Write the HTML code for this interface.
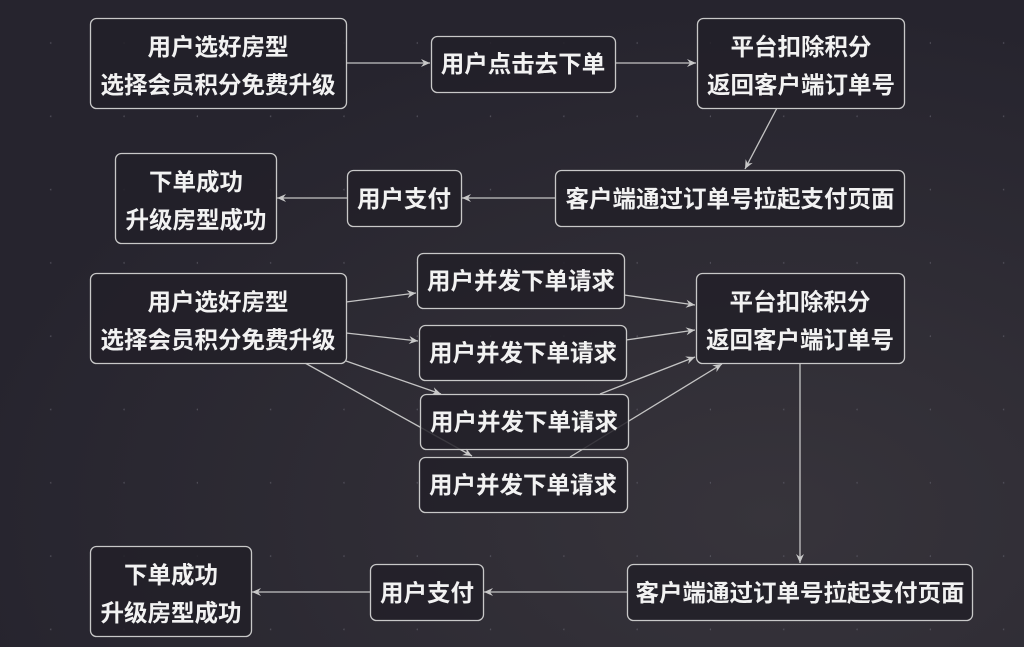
<!DOCTYPE html>
<html><head><meta charset="utf-8"><style>
html,body{margin:0;padding:0;width:1024px;height:647px;overflow:hidden;background:#2a2832;}
svg{display:block}
text{font-family:"Noto Sans CJK SC","Liberation Sans",sans-serif;font-size:23.5px;font-weight:700;fill:#f2f2f2;text-anchor:middle;}
</style></head><body>
<svg width="1024" height="647" viewBox="0 0 1024 647" xmlns="http://www.w3.org/2000/svg">
<defs>
<radialGradient id="bg" cx="0.75" cy="0.8" r="0.8">
<stop offset="0" stop-color="#37343b"/><stop offset="1" stop-color="#26242e"/>
</radialGradient>
<pattern id="dots" width="73.3" height="73.3" patternUnits="userSpaceOnUse" x="-22" y="-20">
<circle cx="73" cy="63" r="0.9" fill="#55535e"/>
</pattern>
<marker id="a" markerWidth="10" markerHeight="10" refX="9" refY="5" orient="auto" markerUnits="userSpaceOnUse">
<path d="M0,1 L9,5 L0,9 L3,5 Z" fill="#c8c8c8"/>
</marker>
</defs>
<rect width="1024" height="647" fill="url(#bg)"/>
<rect width="1024" height="647" fill="url(#dots)"/>
<g stroke="#c4c4c4" stroke-width="1.3" fill="none" marker-end="url(#a)">
<line x1="346" y1="63" x2="430" y2="63"/>
<line x1="615" y1="63" x2="696" y2="63"/>
<line x1="777" y1="108" x2="745" y2="169"/>
<line x1="555" y1="198" x2="462" y2="198"/>
<line x1="347" y1="198" x2="277" y2="198"/>
<line x1="346" y1="302" x2="416" y2="293"/>
<line x1="346" y1="333" x2="418" y2="341"/>
<line x1="346" y1="361" x2="441" y2="394"/>
<line x1="305" y1="363" x2="472" y2="456"/>
<line x1="624" y1="295" x2="695" y2="305"/>
<line x1="626" y1="340" x2="695" y2="330"/>
<line x1="600" y1="394" x2="695" y2="357"/>
<line x1="570" y1="457" x2="722" y2="364"/>
<line x1="800" y1="363" x2="800" y2="563"/>
<line x1="627" y1="592" x2="484" y2="592"/>
<line x1="370" y1="592" x2="252" y2="592"/>
</g>
<g fill="#222028" fill-opacity="0.85" stroke="#c8c8c8" stroke-width="1.3">
<rect x="90.5" y="18.5" width="256" height="90" rx="6"/>
<rect x="431.5" y="36.5" width="184" height="56" rx="6"/>
<rect x="697.5" y="18.5" width="207" height="90" rx="6"/>
<rect x="555.5" y="170.5" width="349" height="56" rx="6"/>
<rect x="347.5" y="170.5" width="114" height="56" rx="6"/>
<rect x="115.5" y="153.5" width="161" height="90" rx="6"/>
<rect x="90.5" y="273.5" width="256" height="90" rx="6"/>
<rect x="417.5" y="253.5" width="207" height="55" rx="6"/>
<rect x="419.5" y="325.5" width="207" height="55" rx="6"/>
<rect x="420.5" y="394.5" width="208" height="55" rx="6"/>
<rect x="419.5" y="457.5" width="208" height="55" rx="6"/>
<rect x="696.5" y="273.5" width="208" height="90" rx="6"/>
<rect x="627.5" y="564.5" width="345" height="56" rx="6"/>
<rect x="370.5" y="564.5" width="113" height="56" rx="6"/>
<rect x="90.5" y="546.5" width="161" height="90" rx="6"/>
</g>
<text x="218" y="55">用户选好房型</text>
<text x="218" y="93">选择会员积分免费升级</text>
<text x="523" y="72">用户点击去下单</text>
<text x="801" y="55">平台扣除积分</text>
<text x="801" y="93">返回客户端订单号</text>
<text x="730" y="207">客户端通过订单号拉起支付页面</text>
<text x="404" y="207">用户支付</text>
<text x="196" y="190">下单成功</text>
<text x="196" y="228">升级房型成功</text>
<text x="218" y="310">用户选好房型</text>
<text x="218" y="348">选择会员积分免费升级</text>
<text x="521" y="289">用户并发下单请求</text>
<text x="523" y="361">用户并发下单请求</text>
<text x="524" y="430">用户并发下单请求</text>
<text x="523" y="493">用户并发下单请求</text>
<text x="800" y="310">平台扣除积分</text>
<text x="800" y="348">返回客户端订单号</text>
<text x="800" y="601">客户端通过订单号拉起支付页面</text>
<text x="427" y="601">用户支付</text>
<text x="171" y="583">下单成功</text>
<text x="171" y="621">升级房型成功</text>
</svg>
</body></html>
